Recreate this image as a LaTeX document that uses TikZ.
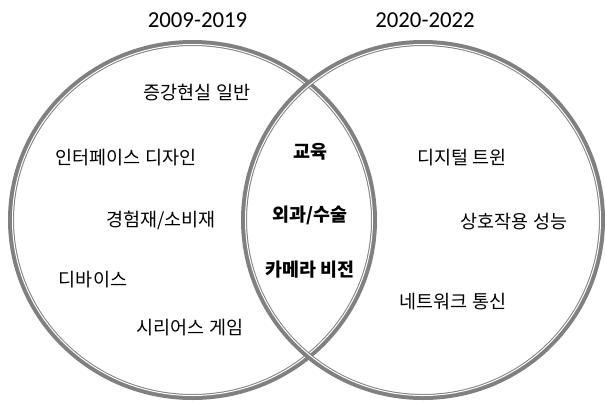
\documentclass[tikz,border=0pt]{standalone}
\usepackage{fontspec}
\setmainfont{Carlito}
\newfontfamily\kr{Noto Sans CJK KR}
\definecolor{ring}{HTML}{808080}
\begin{document}
\begin{tikzpicture}[x=1pt,y=-1pt,
  yr/.style={font=\fontsize{22.8}{26}\selectfont, inner sep=0pt},
  lab/.style={font=\kr\fontsize{18.5}{21}\selectfont, inner sep=0pt},
  blab/.style={font=\kr\bfseries\fontsize{18.4}{21}\selectfont, inner sep=0pt},
  outerring/.style={draw=ring, line width=6pt},
  gapring/.style={draw=white, line width=1pt}]
\useasboundingbox (0,0) rectangle (605,405);
\fill[white] (0,0) rectangle (605,405);
% left set
\draw[outerring] (192.5,220) ellipse [x radius=181.5, y radius=177];
\draw[gapring] (192.5,220) ellipse [x radius=180, y radius=175.5];
% right set
\draw[outerring] (423,220) ellipse [x radius=179, y radius=177];
\draw[gapring] (423,220) ellipse [x radius=177.5, y radius=175.5];
% titles
\node[yr] (t1) at (197.5,20) {2009-2019};
\node[yr] (t2) at (425,20) {2020-2022};
% left only
\node[lab] (a1) at (197,93) {증강현실 일반};
\node[lab] (a2) at (126,158) {인터페이스 디자인};
\node[lab] (a3) at (161,220) {경험재/소비재};
\node[lab] (a4) at (93,280) {디바이스};
\node[lab] (a5) at (190,328) {시리어스 게임};
% both
\node[blab] (b1) at (310,152) {교육};
\node[blab] (b2) at (310,215) {외과/수술};
\node[blab] (b3) at (310,270) {카메라 비전};
% right only
\node[lab] (c1) at (462,158) {디지털 트윈};
\node[lab] (c2) at (514,222) {상호작용 성능};
\node[lab] (c3) at (453,302) {네트워크 통신};
\end{tikzpicture}
\end{document}
